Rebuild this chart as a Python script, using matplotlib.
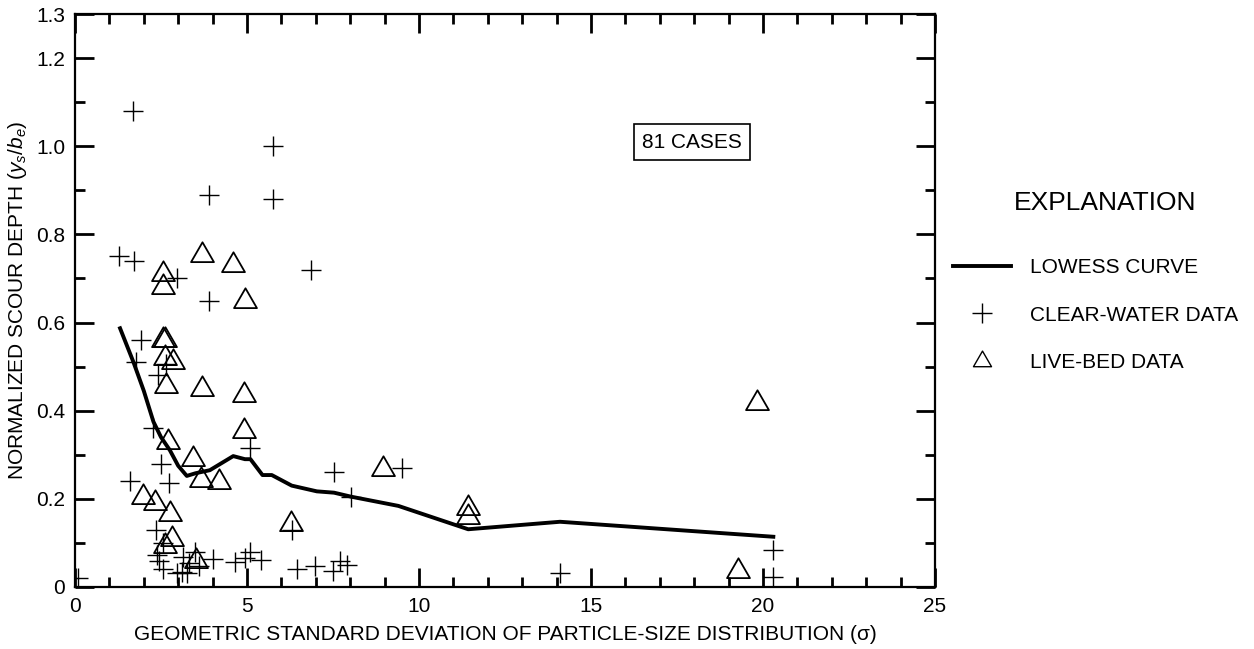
import matplotlib
matplotlib.use("Agg")
import matplotlib.pyplot as plt
from matplotlib.path import Path
from matplotlib.ticker import FixedLocator, MultipleLocator

plt.rcParams['font.family'] = ['Liberation Sans', 'DejaVu Sans']
plt.rcParams['mathtext.fontset'] = 'custom'
plt.rcParams['mathtext.it'] = 'Liberation Sans:italic'
plt.rcParams['mathtext.rm'] = 'Liberation Sans'

# ---- data ----
clear_x = [0.1, 1.29, 1.71, 1.68, 1.6, 1.77, 1.92, 2.28, 2.42, 2.49, 2.74, 2.35, 2.57,
           2.37, 2.45, 2.57, 2.65, 2.96, 3.15, 3.49, 3.32, 3.1, 2.96, 3.27, 3.6, 3.9,
           3.9, 4.02, 4.65, 4.94, 5.09, 5.4, 5.1, 5.77, 5.77, 6.3, 6.46, 6.85, 6.98,
           7.51, 7.53, 7.7, 7.9, 8.02, 9.5, 14.1, 20.3, 20.3]
clear_y = [0.02, 0.75, 0.74, 1.08, 0.24, 0.51, 0.56, 0.36, 0.48, 0.28, 0.235, 0.13, 0.10,
           0.073, 0.06, 0.04, 0.505, 0.70, 0.069, 0.08, 0.054, 0.035, 0.032, 0.032, 0.047, 0.89,
           0.65, 0.064, 0.057, 0.065, 0.08, 0.062, 0.315, 1.00, 0.88, 0.13, 0.04, 0.72, 0.048,
           0.037, 0.262, 0.06, 0.05, 0.205, 0.27, 0.031, 0.085, 0.023]

live_x = [1.99, 2.33, 2.55, 2.55, 2.55, 2.62, 2.63, 2.86, 2.64, 2.71, 2.76, 2.81, 2.62,
          3.42, 3.52, 3.65, 3.68, 3.70, 4.19, 4.60, 4.94, 4.91, 4.91, 6.28, 8.96, 11.43,
          11.43, 19.28, 19.82]
live_y = [0.205, 0.19, 0.71, 0.68, 0.56, 0.56, 0.52, 0.51, 0.456, 0.33, 0.165, 0.108, 0.092,
          0.29, 0.058, 0.243, 0.45, 0.753, 0.238, 0.73, 0.65, 0.435, 0.355, 0.142, 0.267, 0.18,
          0.158, 0.037, 0.418]

lowess_x = [1.31, 1.70, 2.0, 2.28, 2.5, 2.76, 3.0, 3.25, 3.5, 3.92, 4.6, 4.94, 5.1, 5.45,
            5.72, 6.3, 7.03, 7.53, 8.02, 9.4, 11.43, 14.1, 20.3]
lowess_y = [0.587, 0.51, 0.445, 0.375, 0.34, 0.31, 0.275, 0.252, 0.258, 0.265, 0.297, 0.29,
            0.29, 0.254, 0.254, 0.23, 0.217, 0.214, 0.205, 0.184, 0.131, 0.148, 0.114]

ytick_vals = [0, 0.2, 0.4, 0.6, 0.8, 1.0, 1.2, 1.3]
ytick_labels = ['0', '0.2', '0.4', '0.6', '0.8', '1.0', '1.2', '1.3']
xtick_vals = [0, 5, 10, 15, 20, 25]

# equilateral triangle marker
tri = Path([(0, 0.577), (-0.5, -0.289), (0.5, -0.289), (0, 0.577)],
           [Path.MOVETO, Path.LINETO, Path.LINETO, Path.CLOSEPOLY])

fig = plt.figure(figsize=(12.54, 6.49), dpi=100)
ax = fig.add_axes([75 / 1254, 62 / 649, 860 / 1254, 573 / 649])

line, = ax.plot(lowess_x, lowess_y, color='black', lw=2.8, solid_joinstyle='round',
                label='LOWESS CURVE', zorder=3)
cw, = ax.plot(clear_x, clear_y, linestyle='none', marker='+', markersize=14,
              markeredgewidth=1.0, color='black', label='CLEAR-WATER DATA', zorder=4)
lb, = ax.plot(live_x, live_y, linestyle='none', marker=tri, markersize=19,
              markeredgewidth=1.3, markerfacecolor='none', markeredgecolor='black',
              label='LIVE-BED DATA', zorder=4)

ax.set_xlim(0, 25)
ax.set_ylim(0, 1.3)
ax.xaxis.set_major_locator(FixedLocator(xtick_vals))
ax.xaxis.set_minor_locator(MultipleLocator(1))
ax.yaxis.set_major_locator(FixedLocator(ytick_vals))
ax.set_yticklabels(ytick_labels)
ax.yaxis.set_minor_locator(FixedLocator([0.1, 0.3, 0.5, 0.7, 0.9, 1.1]))

ax.tick_params(which='both', direction='in', top=True, right=True, labelsize=15,
               color='black')
ax.tick_params(which='major', length=14, width=2.0)
ax.tick_params(which='minor', length=7.5, width=2.0)
ax.tick_params(axis='y', which='major', pad=7)
ax.tick_params(axis='x', which='major', pad=7)
for s in ax.spines.values():
    s.set_linewidth(1.6)

ax.set_xlabel('GEOMETRIC STANDARD DEVIATION OF PARTICLE-SIZE DISTRIBUTION (σ)',
              fontsize=15)
ax.xaxis.set_label_coords(0.5, -0.066)
ax.set_ylabel(r'NORMALIZED SCOUR DEPTH ($\mathit{y_s/b_e}$)', fontsize=15)
ax.yaxis.set_label_coords(-0.054, 0.5)

ax.text(0.7175, 0.7765, '81 CASES', transform=ax.transAxes, fontsize=15,
        ha='center', va='center',
        bbox=dict(boxstyle='square,pad=0.4', facecolor='white', edgecolor='black',
                  linewidth=1.2))

fig.text(1105 / 1254, 1 - 203 / 649, 'EXPLANATION', fontsize=19, ha='center',
         va='center')
leg = fig.legend(handles=[line, cw, lb], loc='upper left',
                 bbox_to_anchor=(953 / 1254, 1 - 258 / 649),
                 bbox_transform=fig.transFigure, frameon=False, fontsize=15,
                 handlelength=2.8, handletextpad=0.9, labelspacing=1.37,
                 borderpad=0, borderaxespad=0)
leg.legend_handles[2].set_markersize(15)
leg.legend_handles[2].set_markeredgewidth(1.0)
leg.legend_handles[1].set_markersize(14)

fig.savefig('out.png', dpi=100)
